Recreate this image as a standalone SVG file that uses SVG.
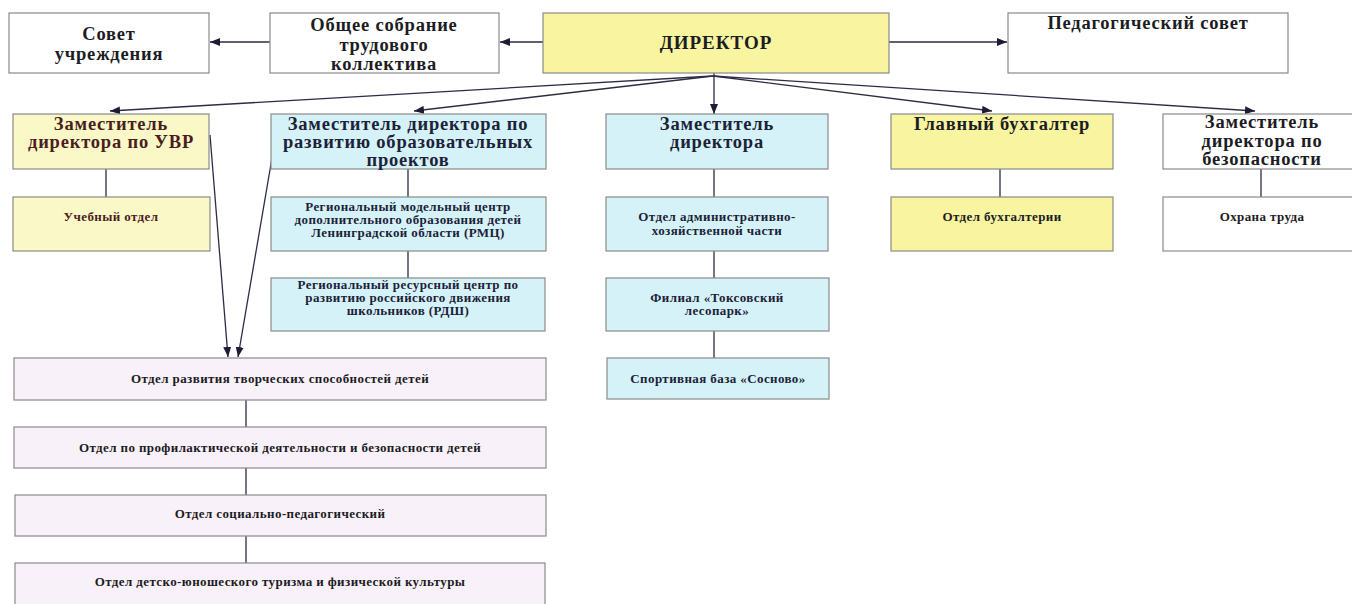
<svg xmlns="http://www.w3.org/2000/svg" width="1352" height="604" viewBox="0 0 1352 604">
<defs>
<style>
.box{stroke:#8a8a8a;stroke-width:1.2}
.w{fill:#ffffff}
.y{fill:#f8f4a0}
.ly{fill:#fbf8c8}
.c{fill:#d6f2f9}
.p{fill:#f9f1f9}
text{font-family:"Liberation Serif","Times New Roman",serif;font-weight:bold;text-anchor:middle;fill:#1c1c24}
.big{font-size:18.5px;letter-spacing:0.8px}
.dir{font-size:19px;letter-spacing:1px}
.sm{font-size:13px;letter-spacing:0.4px}
.br{fill:#4a1e1e}
.nv{fill:#1c2238}
.ln{stroke:#2c2c44;stroke-width:1.3;fill:none}
.ar{marker-end:url(#arr)}
</style>
<marker id="arr" markerUnits="userSpaceOnUse" markerWidth="10" markerHeight="8" refX="10" refY="4" orient="auto">
<path d="M0,0 L10,4 L0,8 z" fill="#1c1c34"/>
</marker>
</defs>

<g id="connectors">
<line class="ln ar" x1="543" y1="42" x2="500" y2="42"/>
<line class="ln ar" x1="270" y1="42" x2="210" y2="42"/>
<line class="ln ar" x1="889" y1="42" x2="1007" y2="42"/>
<line class="ln ar" x1="713" y1="76" x2="110" y2="111"/>
<line class="ln ar" x1="713" y1="76" x2="414" y2="111"/>
<line class="ln ar" x1="714" y1="73" x2="714" y2="114"/>
<line class="ln ar" x1="713" y1="76" x2="992" y2="111"/>
<line class="ln ar" x1="713" y1="76" x2="1255" y2="111"/>
<line class="ln ar" x1="210" y1="135" x2="228" y2="357"/>
<line class="ln ar" x1="272" y1="158" x2="238" y2="357"/>
<line class="ln" x1="106" y1="169" x2="106" y2="197"/>
<line class="ln" x1="408" y1="169" x2="408" y2="197"/>
<line class="ln" x1="408" y1="251" x2="408" y2="278"/>
<line class="ln" x1="714" y1="169" x2="714" y2="197"/>
<line class="ln" x1="714" y1="251" x2="714" y2="278"/>
<line class="ln" x1="714" y1="331" x2="714" y2="358"/>
<line class="ln" x1="1000" y1="169" x2="1000" y2="197"/>
<line class="ln" x1="1261" y1="169" x2="1261" y2="197"/>
<line class="ln" x1="246" y1="400" x2="246" y2="427"/>
<line class="ln" x1="246" y1="468" x2="246" y2="495"/>
<line class="ln" x1="246" y1="536" x2="246" y2="563"/>
</g>

<g id="sovet">
<rect class="box w" x="9" y="13" width="200" height="60"/>
<text class="big" x="109" y="40">Совет</text>
<text class="big" x="109" y="60">учреждения</text>
</g>
<g id="obshee">
<rect class="box w" x="270" y="13" width="229" height="60"/>
<text class="big" x="384" y="31">Общее собрание</text>
<text class="big" x="384" y="51">трудового</text>
<text class="big" x="384" y="70">коллектива</text>
</g>
<g id="director">
<rect class="box y" x="543" y="13" width="346" height="60"/>
<text class="dir" x="716" y="49">ДИРЕКТОР</text>
</g>
<g id="pedsovet">
<rect class="box w" x="1008" y="13" width="280" height="60"/>
<text class="big" x="1148" y="29">Педагогический совет</text>
</g>

<g id="zam-uvr">
<rect class="box ly" x="13" y="114" width="196" height="55"/>
<text class="big br" x="111" y="130">Заместитель</text>
<text class="big br" x="111" y="148">директора по УВР</text>
</g>
<g id="zam-razvitie">
<rect class="box c" x="271" y="114" width="275" height="55"/>
<text class="big nv" x="408" y="130">Заместитель директора по</text>
<text class="big nv" x="408" y="148">развитию образовательных</text>
<text class="big nv" x="408" y="166">проектов</text>
</g>
<g id="zam-dir">
<rect class="box c" x="606" y="114" width="222" height="55"/>
<text class="big nv" x="717" y="130">Заместитель</text>
<text class="big nv" x="717" y="148">директора</text>
</g>
<g id="glavbuh">
<rect class="box y" x="891" y="114" width="222" height="55"/>
<text class="big" x="1002" y="130">Главный бухгалтер</text>
</g>
<g id="zam-bezop">
<rect class="box w" x="1163" y="114" width="196" height="55"/>
<text class="big" x="1262" y="128">Заместитель</text>
<text class="big" x="1262" y="147">директора по</text>
<text class="big" x="1262" y="165">безопасности</text>
</g>

<g id="uchebny">
<rect class="box ly" x="13" y="197" width="197" height="54"/>
<text class="sm br" x="111" y="221">Учебный отдел</text>
</g>
<g id="rmc">
<rect class="box c" x="271" y="197" width="275" height="54"/>
<text class="sm nv" x="408" y="211">Региональный модельный центр</text>
<text class="sm nv" x="408" y="224">дополнительного образования детей</text>
<text class="sm nv" x="408" y="237">Ленинградской области (РМЦ)</text>
</g>
<g id="rdsh">
<rect class="box c" x="271" y="278" width="274" height="53"/>
<text class="sm nv" x="408" y="289">Региональный ресурсный центр по</text>
<text class="sm nv" x="408" y="302">развитию российского движения</text>
<text class="sm nv" x="408" y="315">школьников (РДШ)</text>
</g>
<g id="ahch">
<rect class="box c" x="606" y="197" width="222" height="54"/>
<text class="sm nv" x="717" y="221">Отдел административно-</text>
<text class="sm nv" x="717" y="235">хозяйственной части</text>
</g>
<g id="filial">
<rect class="box c" x="606" y="278" width="223" height="53"/>
<text class="sm nv" x="717" y="302">Филиал «Токсовский</text>
<text class="sm nv" x="717" y="315">лесопарк»</text>
</g>
<g id="sport">
<rect class="box c" x="607" y="358" width="222" height="41"/>
<text class="sm nv" x="718" y="383">Спортивная база «Сосново»</text>
</g>
<g id="buh-otdel">
<rect class="box y" x="891" y="197" width="222" height="54"/>
<text class="sm" x="1002" y="221">Отдел бухгалтерии</text>
</g>
<g id="ohrana">
<rect class="box w" x="1163" y="197" width="196" height="54"/>
<text class="sm" x="1262" y="221">Охрана труда</text>
</g>

<g id="otdel-tvorch">
<rect class="box p" x="14" y="358" width="532" height="42"/>
<text class="sm" x="280" y="383">Отдел развития творческих способностей детей</text>
</g>
<g id="otdel-profil">
<rect class="box p" x="14" y="427" width="532" height="41"/>
<text class="sm" x="280" y="452">Отдел по профилактической деятельности и безопасности детей</text>
</g>
<g id="otdel-soc">
<rect class="box p" x="15" y="495" width="531" height="41"/>
<text class="sm" x="280" y="518">Отдел социально-педагогический</text>
</g>
<g id="otdel-turizm">
<rect class="box p" x="15" y="563" width="530" height="50"/>
<text class="sm" x="280" y="586">Отдел детско-юношеского туризма и физической культуры</text>
</g>
</svg>
